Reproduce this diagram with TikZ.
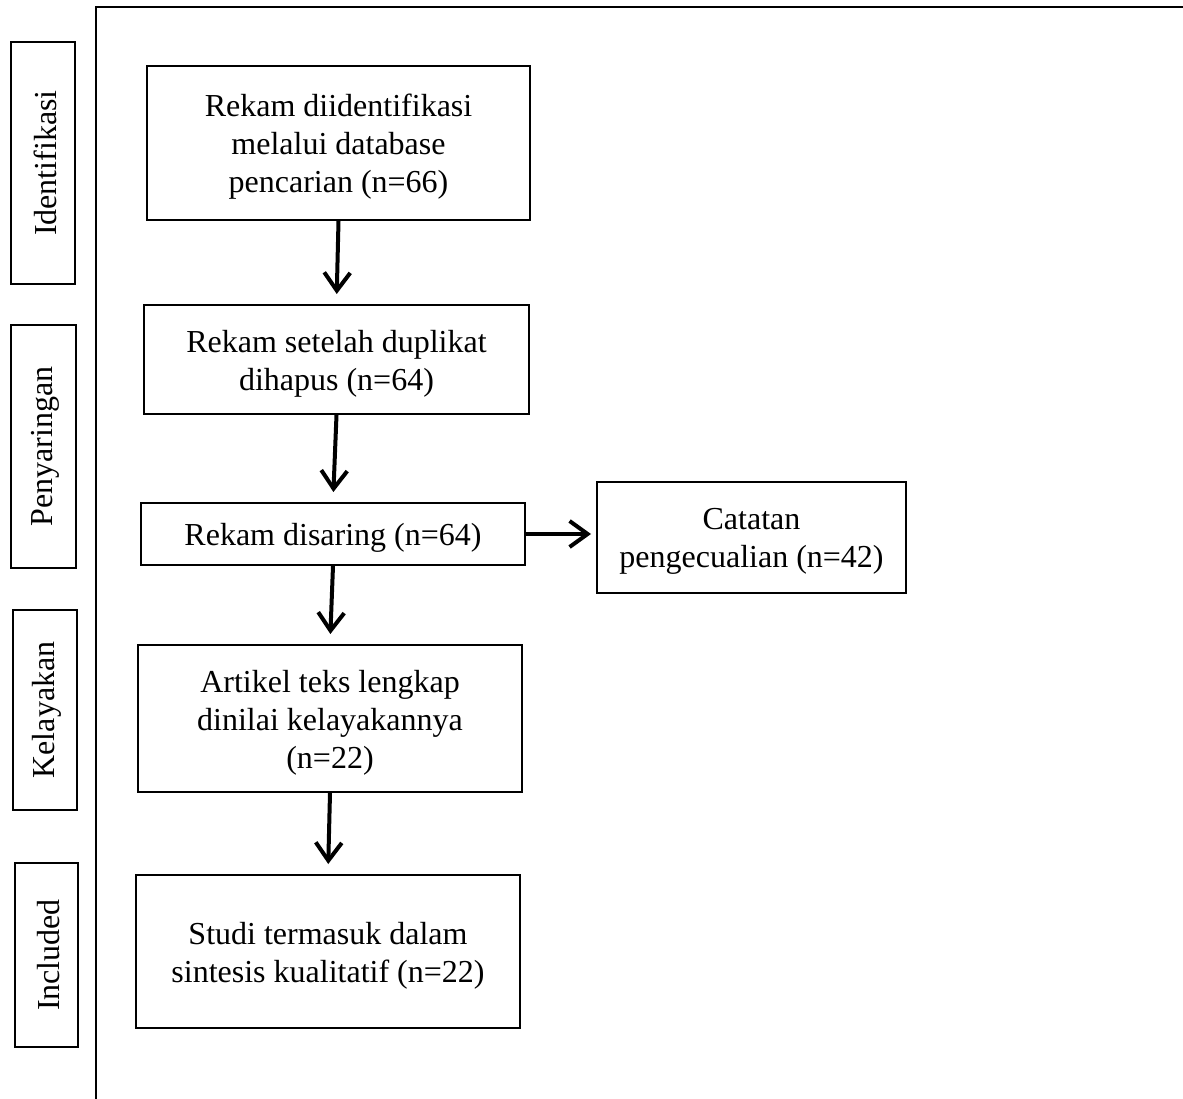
\documentclass[tikz,border=0pt]{standalone}
\usepackage{fontspec}
\setmainfont{Liberation Serif}
\usetikzlibrary{arrows.meta}
\begin{document}
\begin{tikzpicture}[x=1pt,y=-1pt,
  lbl/.style={font=\fontsize{32}{38}\selectfont},
  box/.style={draw,line width=2pt,inner sep=0pt},
  txt/.style={align=center,inner sep=0pt,font=\fontsize{32}{38}\selectfont},
  side/.style={draw,line width=2pt,inner sep=0pt},
  arr/.style={line width=4pt,-{Straight Barb[length=18pt,width=26pt]},shorten >=10pt}]
\useasboundingbox (0,0) rectangle (1183,1099);
\fill[white] (0,0) rectangle (1183,1099);
\draw[line width=2.5pt] (1183,7) -- (96,7) -- (96,1099);
% side labels
\node[side,minimum width=64pt,minimum height=242pt] (s1) at (43,163) {};
\node[lbl,rotate=90] (t1) at ([xshift=2pt]s1.center) {Identifikasi};
\node[side,minimum width=65pt,minimum height=243pt] (s2) at (43.5,446.5) {};
\node[lbl,rotate=90] (t2) at ([xshift=2pt]s2.center) {Penyaringan};
\node[side,minimum width=64pt,minimum height=200pt] (s3) at (45,710) {};
\node[lbl,rotate=90] (t3) at ([xshift=2pt]s3.center) {Kelayakan};
\node[side,minimum width=63pt,minimum height=184pt] (s4) at (46.5,955) {};
\node[lbl,rotate=90] (t4) at ([xshift=2pt]s4.center) {Included};
% main boxes
\node[box,minimum width=383pt,minimum height=154pt] (b1) at (338.5,143) {};
\node[txt] (tb1) at ([yshift=-4pt]b1.center) {Rekam diidentifikasi\\melalui database\\pencarian (n=66)};
\node[box,minimum width=385pt,minimum height=109pt] (b2) at (336.5,359.5) {};
\node[txt] (tb2) at ([yshift=-4pt]b2.center) {Rekam setelah duplikat\\dihapus (n=64)};
\node[box,minimum width=384pt,minimum height=62pt] (b3) at (333,534) {};
\node[txt] (tb3) at ([yshift=-4pt]b3.center) {Rekam disaring (n=64)};
\node[box,minimum width=309pt,minimum height=111pt] (c) at (751.5,537.5) {};
\node[txt] (tc) at ([yshift=-4pt]c.center) {Catatan\\pengecualian (n=42)};
\node[box,minimum width=384pt,minimum height=147pt] (b4) at (330,718.5) {};
\node[txt] (tb4) at ([yshift=-4pt]b4.center) {Artikel teks lengkap\\dinilai kelayakannya\\(n=22)};
\node[box,minimum width=384pt,minimum height=153pt] (b5) at (328,951.5) {};
\node[txt] (tb5) at ([yshift=-4pt]b5.center) {Studi termasuk dalam\\sintesis kualitatif (n=22)};
% arrows
\draw[arr] (b1.south) -- (b2.north);
\draw[arr] (b2.south) -- (b3.north);
\draw[arr] (b3.south) -- (b4.north);
\draw[arr] (b4.south) -- (b5.north);
\draw[arr,shorten >=5pt] (b3.east) -- (b3.east -| c.west);
\end{tikzpicture}
\end{document}
